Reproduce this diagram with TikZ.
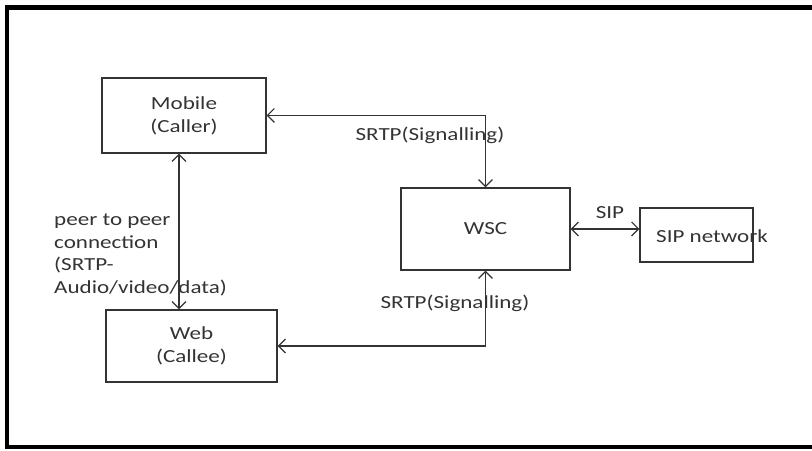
\documentclass[tikz,border=0pt]{standalone}
\usepackage{fontspec}
\setmainfont{Carlito}[FakeStretch=1.25]
\usetikzlibrary{arrows.meta,positioning}
\begin{document}
\begin{tikzpicture}[x=0.02cm,y=0.02cm,
    boxsty/.style={draw=black!80,line width=0.6pt,inner sep=0pt,align=center},
    lblsty/.style={text=black!80,font=\fontsize{10.5}{13}\selectfont},
    linksty/.style={black!80,line width=0.7pt,<->,>={Straight Barb[length=4pt,width=8pt]}}]
  \useasboundingbox (0,0) rectangle (812,450);
  % outer frame
  \draw[line width=0.1cm] (830,442) -- (7,442) -- (7,3) -- (830,3);
  % boxes
  \node[boxsty,lblsty,minimum width=3.28cm,minimum height=1.5cm] (mob) at (184,334.5) {Mobile\\(Caller)};
  \node[boxsty,lblsty,minimum width=3.38cm,minimum height=1.64cm] (wsc) at (485.5,221) {WSC};
  \node[boxsty,minimum width=2.26cm,minimum height=1.08cm] (sip) at (696.5,215) {};
  \node[lblsty] (siptxt) at (712,214) {SIP network};
  \node[boxsty,lblsty,minimum width=3.42cm,minimum height=1.44cm] (web) at (191.5,104) {Web\\(Callee)};
  % links
  \draw[linksty] (mob.east) -| (wsc.north);
  \node[lblsty] (sig1) at (430,315) {SRTP(Signalling)};
  \draw[linksty] (web.east) -| (wsc.south);
  \node[lblsty] (sig2) at (455,147) {SRTP(Signalling)};
  \draw[linksty] (wsc.east) -- (wsc.east -| sip.west);
  \node[lblsty] (siplbl) at (610,237) {SIP};
  % peer to peer
  \draw[linksty] ([xshift=-0.1cm]mob.south) -- ([xshift=-0.1cm]mob.south |- web.north);
  \node[lblsty,anchor=west,align=left] (p2p) at (48,195) {peer to peer\\connection\\(SRTP-\\Audio/video/data)};
\end{tikzpicture}
\end{document}
